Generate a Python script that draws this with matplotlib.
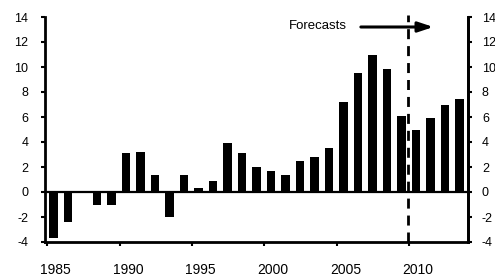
import matplotlib
matplotlib.use("Agg")
import matplotlib.pyplot as plt

years = list(range(1985, 2014))
values = [-3.7, -2.4, 0.1, -1.0, -1.0, 3.1, 3.2, 1.4, -2.0, 1.4,
          0.3, 0.9, 3.9, 3.1, 2.0, 1.7, 1.4, 2.45, 2.8, 3.55,
          7.2, 9.5, 10.95, 9.85, 6.1, 4.95, 5.95, 6.95, 7.45]
year_labels = [1985, 1990, 1995, 2000, 2005, 2010]
y_ticks = [-4, -2, 0, 2, 4, 6, 8, 10, 12, 14]
forecast_start = 2009.45

plt.rcParams.update({
    "font.family": ["Liberation Sans", "DejaVu Sans"],
    "axes.unicode_minus": False,
})

fig = plt.figure(figsize=(4.95, 2.75), dpi=100, facecolor="white")
ax = fig.add_axes([45 / 495, 1 - 242 / 275, (468 - 45) / 495, (242 - 17) / 275])

ax.bar(years, values, width=0.58, color="black", zorder=3)
ax.axhline(0, color="black", lw=1.6, zorder=4)

ax.set_xlim(1984.41, 2013.59)
ax.set_ylim(-4, 14)

# left y axis
ax.set_yticks(y_ticks)
ax.set_yticklabels([str(v) for v in y_ticks], fontsize=9)
ax.tick_params(axis="y", direction="out", length=3, width=1.5, pad=9)

# right y axis, same scale (labels run off the figure edge like the original)
ax2 = ax.twinx()
ax2.set_ylim(-4, 14)
ax2.set_yticks(y_ticks)
ax2.set_yticklabels([str(v) for v in y_ticks], fontsize=9)
ax2.tick_params(axis="y", direction="out", length=3, width=1.5, pad=7)
for side in ["left", "top", "bottom"]:
    ax2.spines[side].set_visible(False)
ax2.spines["right"].set_linewidth(2)

# x ticks at the left edge of each fifth year, labels under the bars
ax.set_xticks([y - 0.45 for y in year_labels])
ax.set_xticklabels([])
ax.tick_params(axis="x", direction="out", length=3, width=1.5)
for y in year_labels:
    ax.text(y + 0.15, -6.2, str(y), ha="center", va="center",
            fontsize=10, color="black")

for side in ["left", "right", "bottom"]:
    ax.spines[side].set_linewidth(2)
ax.spines["top"].set_visible(False)

# forecast divider
ax.plot([forecast_start, forecast_start], [-4, 14.2], color="black", lw=2,
        linestyle=(0, (3.6, 2.5)), clip_on=False, zorder=5)
ax.text(2003.2, 13.25, "Forecasts", ha="center", va="center", fontsize=9.5)
ax.annotate("", xy=(2011.2, 13.2), xytext=(2006.2, 13.2),
            arrowprops=dict(arrowstyle="-|>,head_length=0.9,head_width=0.3",
                            color="black", lw=2.2, shrinkA=0, shrinkB=0))

fig.savefig("out.png", dpi=100)
